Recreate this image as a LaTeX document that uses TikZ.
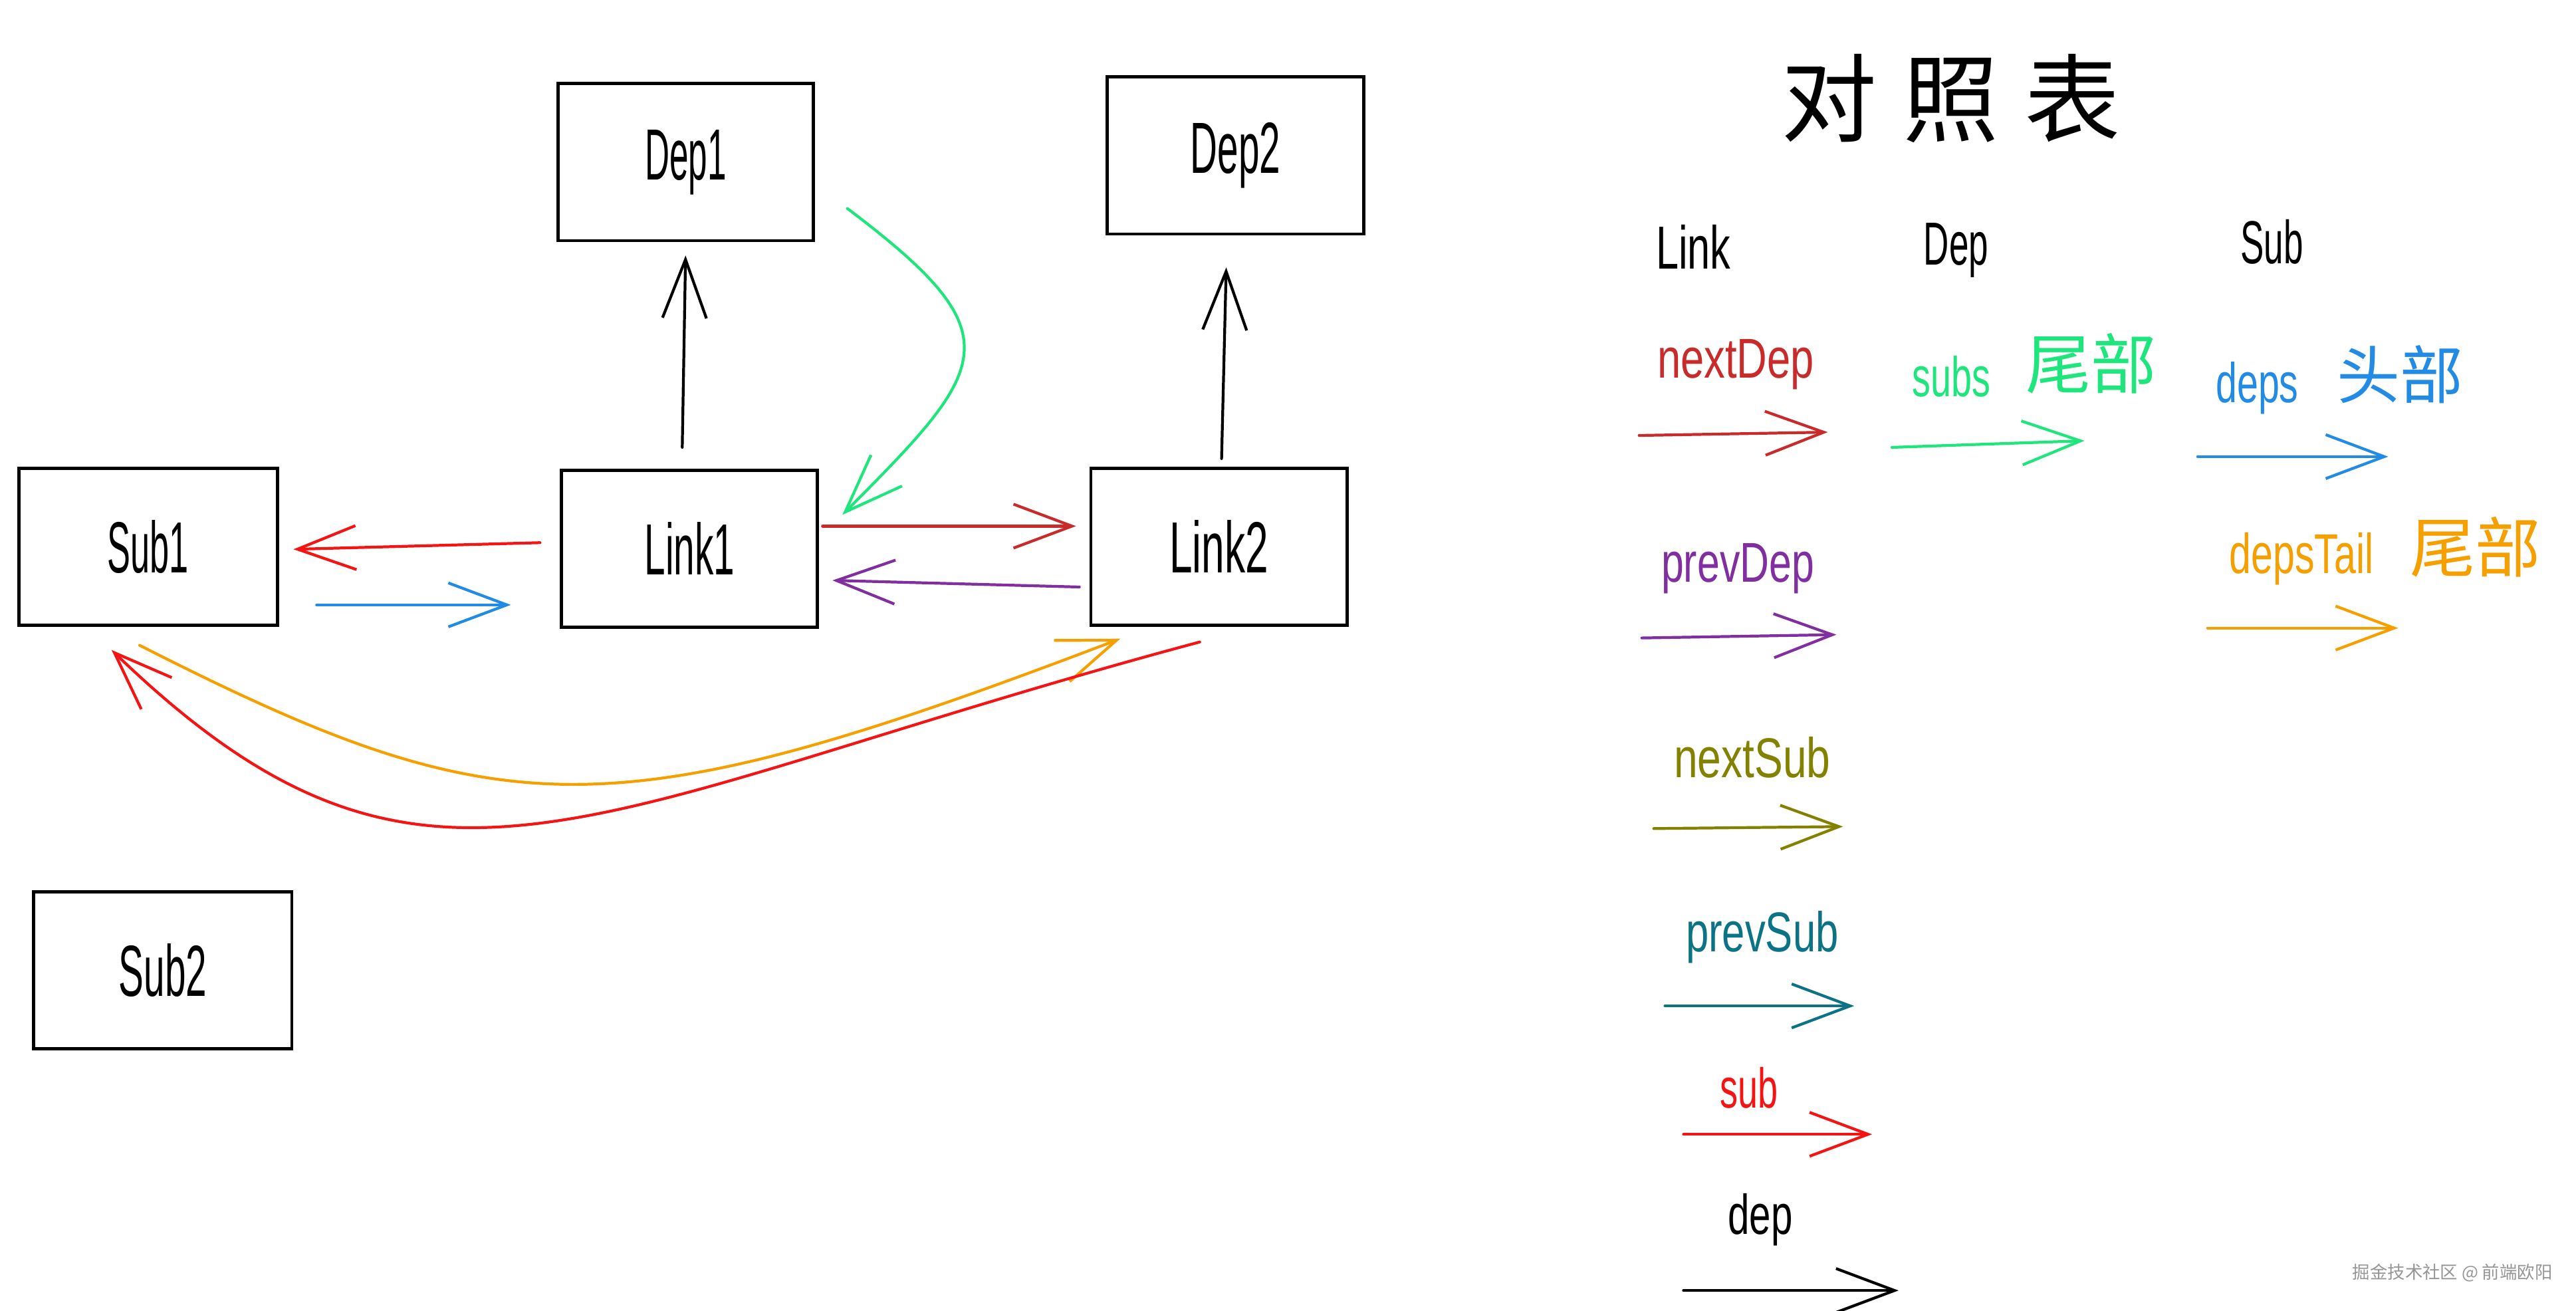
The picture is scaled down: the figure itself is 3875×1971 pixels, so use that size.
\documentclass[tikz,border=0pt]{standalone}
\usepackage{fontspec}
\usepackage{graphicx}
\setmainfont{Liberation Sans}
\newfontfamily\cjk{Noto Sans CJK SC}
\usetikzlibrary{arrows.meta,calc}
\definecolor{cnextdep}{RGB}{201,42,42}
\definecolor{cgreen}{RGB}{30,230,125}
\definecolor{cblue}{RGB}{34,139,230}
\definecolor{cpurple}{RGB}{128,46,160}
\definecolor{corange}{RGB}{245,159,0}
\definecolor{colive}{RGB}{130,130,0}
\definecolor{cteal}{RGB}{12,114,133}
\definecolor{cred}{RGB}{245,20,20}
\definecolor{cmark}{RGB}{150,150,150}
\newcommand\hw[2]{\scalebox{#1}[1]{#2}}
\begin{document}
\begin{tikzpicture}[x=0.01cm,y=-0.01cm,
  box/.style={draw=black,line width=1.4pt,minimum width=3.85cm,minimum height=2.36cm,inner sep=0pt,font=\fontsize{31}{36}\selectfont},
  conn/.style={line width=1.2pt,line cap=round,-{Straight Barb[length=0.88cm,width=0.66cm]}},
  lbl/.style={inner sep=0pt,font=\fontsize{24}{29}\selectfont},
  hdr/.style={inner sep=0pt,font=\fontsize{26}{31}\selectfont},
  zh/.style={inner sep=0pt,font=\cjk\fontsize{28}{34}\selectfont},
]
\useasboundingbox (0,0) rectangle (3875,1971);
\fill[white] (0,0) rectangle (3875,1971);
\begin{scope}[x=0.00995cm,y=-0.00995cm]
% boxes
\node[box,minimum width=3.84cm] (dep1) at (1036,245) {\hw{0.47}{Dep1}};
\node[box,minimum width=3.86cm] (dep2) at (1867,235) {\hw{0.52}{Dep2}};
\node[box,minimum width=3.88cm] (sub1) at (224,826) {\hw{0.48}{Sub1}};
\node[box] (link1) at (1042,829) {\hw{0.52}{Link1}};
\node[box] (link2) at (1842,826) {\hw{0.57}{Link2}};
\node[box,minimum width=3.88cm] (sub2) at (246,1466) {\hw{0.52}{Sub2}};

% connectors
\draw[conn] ($(link1.north)+(-11,-32)$) -- ($(dep1.south)+(0,20)$);
\draw[conn] ($(link2.north)+(4,-12)$) -- ($(dep2.south)+(-14,48)$);
\draw[conn,cgreen] ($(dep1.east)+(49,70)$) .. controls (1535,507) and (1497,553) .. ($(link1.north east)+(35,70)$);
\draw[conn,cred] ($(link1.west)+(-30,-9)$) -- ($(sub1.east)+(22,4)$);
\draw[conn,cblue] ($(sub1.east)+(57,88)$) -- ($(link1.west)+(-74,85)$);
\draw[conn,cnextdep] ($(link1.east)+(5,-34)$) -- ($(link2.west)+(-20,-31)$);
\draw[conn,cpurple] ($(link2.west)+(-15,61)$) -- ($(link1.east)+(20,48)$);
\draw[conn,corange] ($(sub1.south)+(-13,28)$) .. controls (760,1254) and (922,1259) .. ($(link2.south west)+(47,18)$);
\draw[conn,cred] ($(link2.south)+(-29,23)$) .. controls (879,1220) and (646,1443) .. ($(sub1.south west)+(142,35)$);

% legend
\node[inner sep=0pt] (title) at (2948,149) {\cjk\fontsize{41}{48}\selectfont 对\hspace{11pt}照\hspace{11pt}表};
\node[hdr] (hlink) at (2559,373) {\hw{0.67}{Link}};
\node[hdr] (hdep) at (2956,378) {\hw{0.58}{Dep}};
\node[hdr] (hsub) at (3433,365) {\hw{0.58}{Sub}};

\node[lbl,text=cnextdep] (lnextdep) at (2623,551) {\hw{0.75}{nextDep}};
\coordinate (a1s) at (2477,658); \coordinate (a1e) at (2762,653);
\draw[conn,cnextdep] (a1s) -- (a1e);

\node[lbl,text=cgreen] (lsubs) at (2949,569) {\hw{0.66}{subs}};
\node[zh,text=cgreen] (lsubszh) at (3160,549) {尾部};
\coordinate (a2s) at (2859,676); \coordinate (a2e) at (3150,666);
\draw[conn,cgreen] (a2s) -- (a2e);

\node[lbl,text=cblue] (ldeps) at (3411,586) {\hw{0.68}{deps}};
\node[zh,text=cblue,font=\cjk\fontsize{27}{32}\selectfont] (ldepszh) at (3627,566) {头部};
\coordinate (a3s) at (3321,690); \coordinate (a3e) at (3609,690);
\draw[conn,cblue] (a3s) -- (a3e);

\node[lbl,text=cpurple] (lprevdep) at (2626,859) {\hw{0.72}{prevDep}};
\coordinate (a4s) at (2481,964); \coordinate (a4e) at (2775,959);
\draw[conn,cpurple] (a4s) -- (a4e);

\node[lbl,text=corange] (ldepstail) at (3478,845) {\hw{0.70}{depsTail}};
\node[zh,text=corange] (ldepstailzh) at (3741,827) {尾部};
\coordinate (a5s) at (3336,949); \coordinate (a5e) at (3624,949);
\draw[conn,corange] (a5s) -- (a5e);

\node[lbl,text=colive] (lnextsub) at (2648,1145) {\hw{0.76}{nextSub}};
\coordinate (a6s) at (2499,1252); \coordinate (a6e) at (2785,1249);
\draw[conn,colive] (a6s) -- (a6e);

\node[lbl,text=cteal] (lprevsub) at (2663,1416) {\hw{0.73}{prevSub}};
\coordinate (a7s) at (2516,1520); \coordinate (a7e) at (2802,1520);
\draw[conn,cteal] (a7s) -- (a7e);

\node[lbl,text=cred] (lsub) at (2643,1644) {\hw{0.64}{sub}};
\coordinate (a8s) at (2544,1714); \coordinate (a8e) at (2829,1714);
\draw[conn,cred] (a8s) -- (a8e);

\node[lbl] (ldep) at (2660,1843) {\hw{0.69}{dep}};
\coordinate (a9s) at (2544,1950); \coordinate (a9e) at (2869,1950);
\draw[conn] (a9s) -- (a9e);

\node[inner sep=0pt,text=cmark,font=\cjk\fontsize{7.5}{9}\selectfont] (mark) at (3706,1923) {掘金技术社区 @ 前端欧阳};
\end{scope}
\end{tikzpicture}
\end{document}
